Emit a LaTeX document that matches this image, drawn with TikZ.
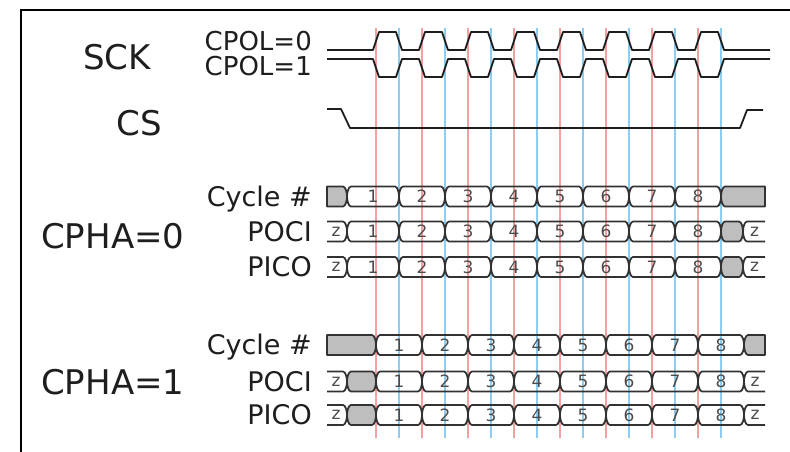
\documentclass[tikz,border=0pt]{standalone}
\usepackage{fontspec}
\setmainfont{DejaVu Sans}
\definecolor{redl}{RGB}{243,160,160}
\definecolor{bluel}{RGB}{140,205,240}
\definecolor{busgray}{RGB}{190,190,190}
\definecolor{ink}{RGB}{30,30,30}
\definecolor{busline}{RGB}{50,50,50}
\definecolor{numc}{RGB}{75,75,75}
\tikzset{
 wave/.style={draw=ink, line width=1.8pt, line join=round},
 bus/.style={draw=busline, line width=1.7pt, line join=round},
 guide/.style={line width=2.3pt},
 num/.style={font=\fontsize{17}{17}\selectfont, text=numc, inner sep=0pt},
 lblbig/.style={font=\fontsize{34}{34}\selectfont, text=ink, inner sep=0pt},
 lblmid/.style={font=\fontsize{27}{27}\selectfont, text=ink, inner sep=0pt},
 lblcpol/.style={font=\fontsize{26}{26}\selectfont, text=ink, inner sep=0pt},
}
% crossing pieces: right end ")" and left end "("
% numbered segment, crossings on both sides
\newcommand\segCC[5]{%
 \draw[bus] ({#1+4},{#3-10}) -- ({#2-4},{#3-10}) .. controls ({#2-1.5},{#3-10}) and ({#2},{#3-4}) .. ({#2},{#3}) .. controls ({#2},{#3+4}) and ({#2-1.5},{#3+10}) .. ({#2-4},{#3+10}) -- ({#1+4},{#3+10}) .. controls ({#1+1.5},{#3+10}) and ({#1},{#3+4}) .. ({#1},{#3}) .. controls ({#1},{#3-4}) and ({#1+1.5},{#3-10}) .. ({#1+4},{#3-10}) -- cycle;
 \node[num] (#5) at ({(#1+#2)/2},{#3}) {#4};}
% gray segment, crossings on both sides
\newcommand\segCCg[3]{%
 \draw[bus,fill=busgray] ({#1+4},{#3-10}) -- ({#2-4},{#3-10}) .. controls ({#2-1.5},{#3-10}) and ({#2},{#3-4}) .. ({#2},{#3}) .. controls ({#2},{#3+4}) and ({#2-1.5},{#3+10}) .. ({#2-4},{#3+10}) -- ({#1+4},{#3+10}) .. controls ({#1+1.5},{#3+10}) and ({#1},{#3+4}) .. ({#1},{#3}) .. controls ({#1},{#3-4}) and ({#1+1.5},{#3-10}) .. ({#1+4},{#3-10}) -- cycle;}
% gray, square left, crossing right
\newcommand\segSC[3]{%
 \draw[bus,fill=busgray] ({#1},{#3-10}) -- ({#2-4},{#3-10}) .. controls ({#2-1.5},{#3-10}) and ({#2},{#3-4}) .. ({#2},{#3}) .. controls ({#2},{#3+4}) and ({#2-1.5},{#3+10}) .. ({#2-4},{#3+10}) -- ({#1},{#3+10}) -- cycle;}
% gray, crossing left, square right
\newcommand\segCS[3]{%
 \draw[bus,fill=busgray] ({#1+4},{#3-10}) -- ({#2},{#3-10}) -- ({#2},{#3+10}) -- ({#1+4},{#3+10}) .. controls ({#1+1.5},{#3+10}) and ({#1},{#3+4}) .. ({#1},{#3}) .. controls ({#1},{#3-4}) and ({#1+1.5},{#3-10}) .. ({#1+4},{#3-10}) -- cycle;}
% z, open left, crossing right
\newcommand\segOC[4]{%
 \draw[bus] ({#1},{#3-10}) -- ({#2-4},{#3-10}) .. controls ({#2-1.5},{#3-10}) and ({#2},{#3-4}) .. ({#2},{#3}) .. controls ({#2},{#3+4}) and ({#2-1.5},{#3+10}) .. ({#2-4},{#3+10}) -- ({#1},{#3+10});
 \node[num] (#4) at ({(#1+#2)/2-1},{#3}) {z};}
% z, crossing left, open right
\newcommand\segCO[4]{%
 \draw[bus] ({#2},{#3-10}) -- ({#1+4},{#3-10}) .. controls ({#1+1.5},{#3-10}) and ({#1},{#3-4}) .. ({#1},{#3}) .. controls ({#1},{#3+4}) and ({#1+1.5},{#3+10}) .. ({#1+4},{#3+10}) -- ({#2},{#3+10});
 \node[num] (#4) at ({(#1+#2)/2+0.5},{#3}) {z};}
\begin{document}
\begin{tikzpicture}[x=1pt,y=-1pt]
\useasboundingbox (0,0) rectangle (790,452);
\clip (0,0) rectangle (790,452);
\fill[white] (0,0) rectangle (790,452);
\draw[line width=2.2pt] (21,10) rectangle (830,490);
% guide lines
\foreach \k in {0,...,7}{
 \draw[guide, redl] ({376+46*\k},28) -- ({376+46*\k},438);
 \draw[guide, bluel] ({399+46*\k},28) -- ({399+46*\k},438);
}
% SCK waveforms
\draw[wave] (327,50) foreach \k in {0,...,7} { -- ({373+46*\k},50) -- ({379+46*\k},32) -- ({396+46*\k},32) -- ({402+46*\k},50) } -- (770,50);
\draw[wave] (327,59) foreach \k in {0,...,7} { -- ({373+46*\k},59) -- ({379+46*\k},77) -- ({396+46*\k},77) -- ({402+46*\k},59) } -- (770,59);
% CS
\draw[wave] (327,109) -- (341,109) -- (350,128) -- (740,128) -- (747,110) -- (763,110);
% labels
\node[lblbig, anchor=base west] (sck) at (83,70) {SCK};
\node[lblcpol, anchor=base east] (cpol0) at (312,51) {CPOL=0};
\node[lblcpol, anchor=base east] (cpol1) at (312,75) {CPOL=1};
\node[lblbig, anchor=base east] (cs) at (162,135) {CS};
\node[lblbig, anchor=base west] (cpha0) at (41,248) {CPHA=0};
\node[lblmid, anchor=base east] (cyc0) at (312,206) {Cycle \#};
\node[lblmid, anchor=base east] (poci0) at (312,241) {POCI};
\node[lblmid, anchor=base east] (pico0) at (312,276.5) {PICO};
\node[lblbig, anchor=base west] (cpha1) at (41,394) {CPHA=1};
\node[lblmid, anchor=base east] (cyc1) at (312,354.5) {Cycle \#};
\node[lblmid, anchor=base east] (poci1) at (312,391) {POCI};
\node[lblmid, anchor=base east] (pico1) at (312,424.5) {PICO};
% CPHA=0 rows
\segSC{327}{347}{196.5}
\segCC{347}{399}{196.5}{1}{ca1}
\foreach \k in {2,...,8}{\segCC{399+46*(\k-2)}{445+46*(\k-2)}{196.5}{\k}{ca\k}}
\segCS{721}{765}{196.5}
\foreach \y/\n in {231.5/pa,267/qa}{
 \segOC{327}{347}{\y}{\n z1}
 \segCC{347}{399}{\y}{1}{\n1}
 \foreach \k in {2,...,8}{\segCC{399+46*(\k-2)}{445+46*(\k-2)}{\y}{\k}{\n\k}}
 \segCCg{721}{743}{\y}
 \segCO{743}{765}{\y}{\n z2}
}
% CPHA=1 rows
\segSC{327}{376}{345}
\foreach \k in {1,...,8}{\segCC{376+46*(\k-1)}{422+46*(\k-1)}{345}{\k}{cb\k}}
\segCS{744}{765}{345}
\foreach \y/\n in {381.5/pb,415/qb}{
 \segOC{327}{347}{\y}{\n z1}
 \segCCg{347}{376}{\y}
 \foreach \k in {1,...,8}{\segCC{376+46*(\k-1)}{422+46*(\k-1)}{\y}{\k}{\n\k}}
 \segCO{744}{765}{\y}{\n z2}
}
\end{tikzpicture}
\end{document}
